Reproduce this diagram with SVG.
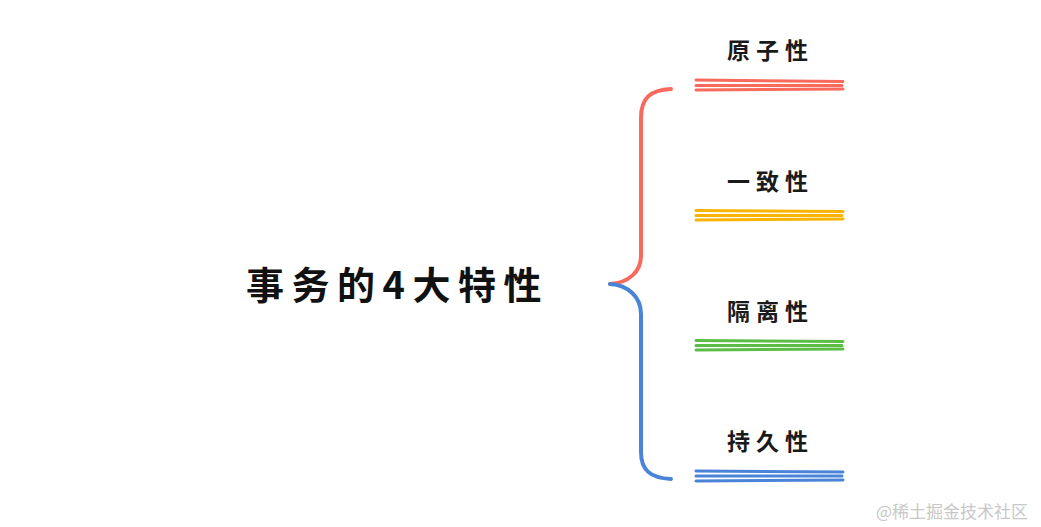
<svg xmlns="http://www.w3.org/2000/svg" width="1041" height="527" viewBox="0 0 1041 527">
<style>
.lbl{font-family:"Noto Sans CJK SC","Noto Sans",sans-serif;font-weight:bold;font-size:23px;fill:#1a1a1a;letter-spacing:6px}
.title{font-family:"Noto Sans CJK SC","Noto Sans",sans-serif;font-weight:bold;font-size:38px;fill:#111;letter-spacing:7.5px}
.br{fill:none;stroke-width:4;stroke-linecap:round}
.ul{fill:none;stroke-width:3;stroke-linecap:round}
.red{stroke:#f86a5c}.yel{stroke:#f8b400}.grn{stroke:#5cbd45}.blu{stroke:#4a84d8}
.wm{font-family:"Noto Sans CJK SC",sans-serif;font-size:17px;fill:#c8c8c8}
</style>
<rect width="1041" height="527" fill="#ffffff"/>
<g id="title"><text class="title" x="246" y="299">事务的4大特性</text></g>
<g id="connectors">
<path class="br red" d="M671 89 C650 90 641 98 641 118 L641 256 C641 272 628 283 610 284"/>
<path class="br blu" d="M610 284 C628 285 641 297 641 314 L641 452 C641 470 650 478 671 479"/>
</g>
<g id="n1">
<text class="lbl" x="727" y="59">原子性</text>
<path class="ul red" d="M696 80 L843 81.5 M696 85.5 L842 85.5 M696 90 L843 89"/>
</g>
<g id="n2">
<text class="lbl" x="727" y="190">一致性</text>
<path class="ul yel" d="M696 210.5 L843 211.5 M696 215.5 L842 215.5 M696 220 L843 219"/>
</g>
<g id="n3">
<text class="lbl" x="727" y="320">隔离性</text>
<path class="ul grn" d="M696 340.5 L843 341.5 M696 345.5 L842 345.5 M696 350 L843 349"/>
</g>
<g id="n4">
<text class="lbl" x="727" y="450">持久性</text>
<path class="ul blu" d="M696 471 L843 472 M696 476 L842 476 M696 481 L843 480"/>
</g>
<text class="wm" x="876" y="518">@稀土掘金技术社区</text>
</svg>
